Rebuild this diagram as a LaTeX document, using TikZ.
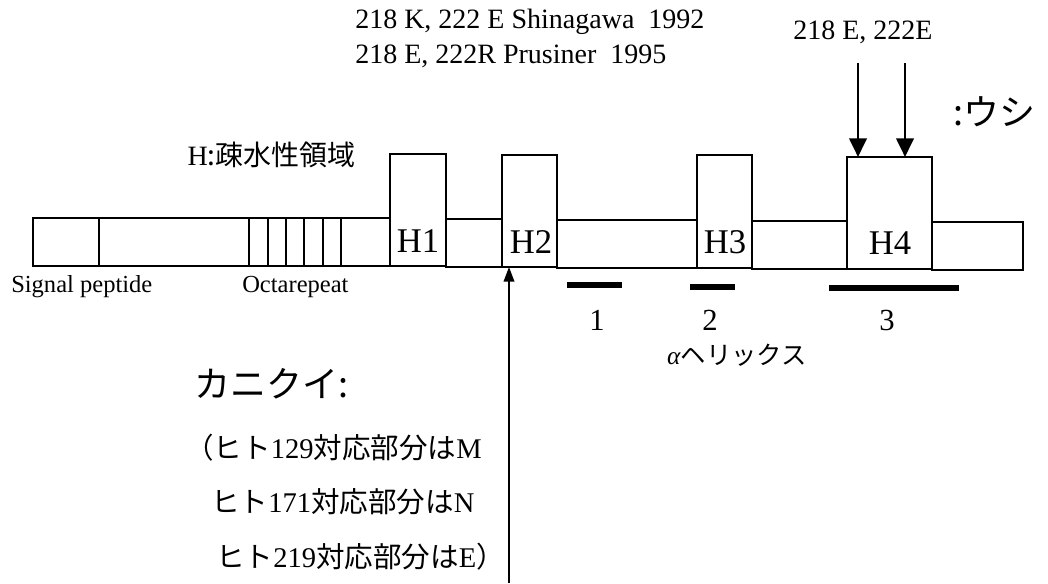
\documentclass[tikz,border=0pt]{standalone}
\usepackage{fontspec}
\setmainfont{Liberation Serif}
\newfontfamily\jp{Noto Sans CJK JP}
\usetikzlibrary{arrows.meta}
\tikzset{
  seg/.style={draw=black, line width=1.3pt},
  sep/.style={draw=black, line width=1.1pt},
  helix/.style={draw=black, line width=4pt},
  downarrow/.style={draw=black, line width=2.2pt, -{Triangle[width=13pt,length=14pt]}},
  uparrow/.style={draw=black, line width=1.2pt, -{Triangle[width=8pt,length=11pt]}},
  txt/.style={inner sep=0pt, font=\fontsize{21}{24}\selectfont},
  hlbl/.style={inner sep=0pt, font=\fontsize{26}{28}\selectfont},
  jpl/.style={inner sep=0pt, anchor=west, font=\fontsize{21.4}{24}\selectfont},
}
\begin{document}
\begin{tikzpicture}[x=0.75pt, y=-0.75pt]
\useasboundingbox (0,0) rectangle (1048,583);
% main bar segments
\draw[seg] (33,218) rectangle (390,266);
\draw[sep] (99,218) -- (99,266);
\foreach \xx in {249,268,286,304,323,341} \draw[sep] (\xx,218) -- (\xx,266);
\draw[seg] (390,154) rectangle (446,266);
\draw[seg] (446,219) rectangle (502,267);
\draw[seg] (502,155) rectangle (557,267);
\draw[seg] (557,220) rectangle (697,268);
\draw[seg] (697,155) rectangle (752,268);
\draw[seg] (752,221) rectangle (847,269);
\draw[seg] (847,157) rectangle (932,269);
\draw[seg] (932,222) rectangle (1023,270);
% H labels
\node[hlbl] (h1) at (418,241) {H1};
\node[hlbl] (h2) at (531,242) {H2};
\node[hlbl] (h3) at (725,242) {H3};
\node[hlbl] (h4) at (890,243) {H4};
% region labels
\node[txt, anchor=west, font=\fontsize{18.4}{20}\selectfont] (sp) at (11,287) {Signal peptide};
\node[txt, anchor=west, font=\fontsize{18.4}{20}\selectfont] (oct) at (242,287) {Octarepeat};
\node[txt, anchor=east] (hyd) at (356,155) {H{\jp :疎水性領域}};
% helices
\draw[helix] (567,285) -- (622,285);
\draw[helix] (690,287) -- (735,287);
\draw[helix] (829,288) -- (959,288);
\node[hlbl, font=\fontsize{23}{25}\selectfont] (n1) at (597,320) {1};
\node[hlbl, font=\fontsize{23}{25}\selectfont] (n2) at (710,320) {2};
\node[hlbl, font=\fontsize{23}{25}\selectfont] (n3) at (887,320) {3};
\node[txt, font=\fontsize{19}{21}\selectfont] (ah) at (737,355) {\textit{α}{\jp ヘリックス}};
% top texts
\node[txt, anchor=west] (t1) at (355,22) {218 K, 222 E Shinagawa\ \ 1992};
\node[txt, anchor=west] (t2) at (355,56) {218 E, 222R Prusiner\ \ 1995};
\node[txt, anchor=west] (t3) at (793,32) {218 E, 222E};
\node[jpl, font=\fontsize{27}{30}\selectfont] (cow) at (953,112) {{\jp :ウシ}};
% arrows
\coordinate (a1s) at (858,63);
\coordinate (a1e) at (858,157);
\coordinate (a2s) at (905,63);
\coordinate (a2e) at (905,157);
\draw[downarrow] (a1s) -- (a1e);
\draw[downarrow] (a2s) -- (a2e);
\coordinate (b1s) at (509,583);
\coordinate (b1e) at (509,267);
\draw[uparrow] (b1s) -- (b1e);
% monkey text
\node[jpl, font=\fontsize{27}{30}\selectfont] (mk) at (194,384) {{\jp カニクイ:}};
\node[jpl] (m1) at (185,448) {{\jp （ヒト}129{\jp 対応部分は}M};
\node[jpl] (m2) at (211,502) {{\jp ヒト}171{\jp 対応部分は}N};
\node[jpl] (m3) at (216,557) {{\jp ヒト}219{\jp 対応部分は}E{\jp ）}};
\end{tikzpicture}
\end{document}
